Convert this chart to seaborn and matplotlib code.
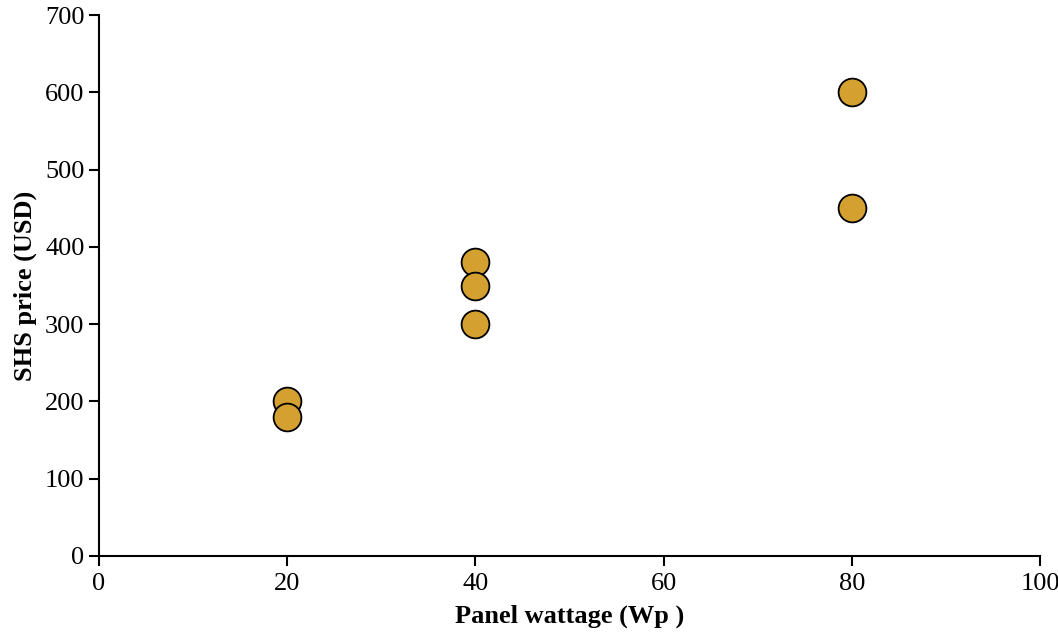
import matplotlib
matplotlib.use("Agg")
import matplotlib.pyplot as plt
import seaborn as sns
import pandas as pd

wattage = [20, 20, 40, 40, 40, 80, 80]
price = [200, 180, 380, 350, 300, 600, 450]
x_ticks = [0, 20, 40, 60, 80, 100]
y_ticks = [0, 100, 200, 300, 400, 500, 600, 700]

sns.set_theme(style="ticks")
plt.rcParams['font.family'] = ['Liberation Serif', 'DejaVu Serif']

df = pd.DataFrame({"Panel wattage (Wp )": wattage, "SHS price (USD)": price})

fig = plt.figure(figsize=(10.58, 6.36), dpi=100)
ax = fig.add_axes([0.0936, 0.1258, 0.8894, 0.8506])
sns.scatterplot(data=df, x="Panel wattage (Wp )", y="SHS price (USD)", ax=ax,
                s=400, color="#D4A030", edgecolor="black", linewidth=1.3, zorder=3)
ax.set_xlim(0, 100)
ax.set_ylim(0, 700)
ax.set_xticks(x_ticks)
ax.set_yticks(y_ticks)
ax.tick_params(axis="both", labelsize=19, length=7, width=1.5, direction="out", color="black", labelcolor="black")
ax.tick_params(axis="x", pad=5)
for side in ["top", "right"]:
    ax.spines[side].set_visible(False)
for side in ["left", "bottom"]:
    ax.spines[side].set_linewidth(1.5)
    ax.spines[side].set_color("black")
ax.set_xlabel("Panel wattage (Wp )", fontsize=19, fontweight="bold", labelpad=7, color="black")
ax.set_ylabel("SHS price (USD)", fontsize=19, fontweight="bold", labelpad=6, color="black")
for c in ax.collections:
    c.set_clip_on(False)
fig.savefig("out.png", dpi=100, facecolor="white")
